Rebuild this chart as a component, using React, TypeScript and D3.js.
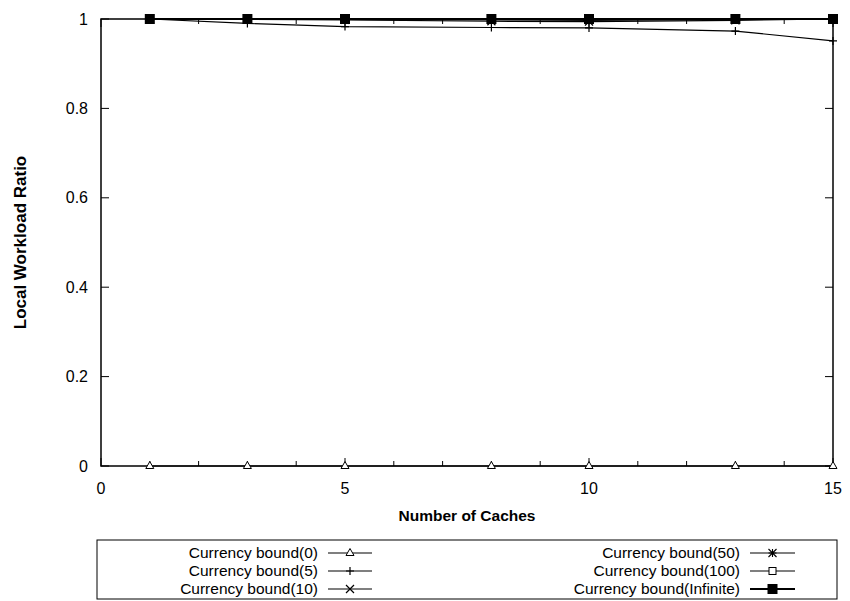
import React from "react";
import * as d3 from "d3";

const caches = [1, 3, 5, 8, 10, 13, 15];
const bound0 = [0, 0, 0, 0, 0, 0, 0];
const bound5 = [1, 0.99, 0.983, 0.981, 0.98, 0.973, 0.951];
const bound10 = [1, 0.999, 0.998, 0.995, 0.994, 0.997, 1];
const bound50 = [1, 1, 0.999, 0.998, 0.997, 0.999, 1];
const bound100 = [1, 1, 1, 0.999, 0.999, 1, 1];
const boundInf = [1, 1, 1, 1, 1, 1, 1];
const seriesNames = [
  "Currency bound(0)",
  "Currency bound(5)",
  "Currency bound(10)",
  "Currency bound(50)",
  "Currency bound(100)",
  "Currency bound(Infinite)",
];
const markerTypes = ["triangle", "plus", "cross", "star", "square", "filled"];
const xTickValues = [0, 5, 10, 15];
const xMinorValues = d3.range(0, 16);
const yTickValues = [0, 0.2, 0.4, 0.6, 0.8, 1];

const W = 850;
const H = 601;
const FONT = "'Liberation Sans', Arial, Helvetica, sans-serif";

function Marker({ type, x, y }: { type: string; x: number; y: number }) {
  const s = 4;
  switch (type) {
    case "triangle":
      return (
        <path
          d={`M${x},${y - 4.5}L${x + 4},${y + 2.5}L${x - 4},${y + 2.5}Z`}
          fill="white"
          stroke="black"
          strokeWidth={1}
        />
      );
    case "plus":
      return (
        <path d={`M${x - s},${y}H${x + s}M${x},${y - s}V${y + s}`} stroke="black" strokeWidth={1.2} />
      );
    case "cross":
      return (
        <path
          d={`M${x - s},${y - s}L${x + s},${y + s}M${x - s},${y + s}L${x + s},${y - s}`}
          stroke="black"
          strokeWidth={1.2}
        />
      );
    case "star":
      return (
        <path
          d={`M${x - s},${y}H${x + s}M${x},${y - s}V${y + s}M${x - s},${y - s}L${x + s},${y + s}M${x - s},${y + s}L${x + s},${y - s}`}
          stroke="black"
          strokeWidth={1.1}
        />
      );
    case "square":
      return <rect x={x - 3.5} y={y - 3.5} width={7} height={7} fill="white" stroke="black" strokeWidth={1} />;
    case "filled":
    default:
      return <rect x={x - 5} y={y - 5} width={10} height={10} fill="black" />;
  }
}

export default function App() {
  const left = 101;
  const right = 833;
  const top = 19;
  const bottom = 466;
  const x = d3.scaleLinear().domain([0, 15]).range([left, right]);
  const y = d3.scaleLinear().domain([0, 1]).range([bottom, top]);

  const allSeries = [bound0, bound5, bound10, bound50, bound100, boundInf];
  const line = d3
    .line<number>()
    .x((_, i) => x(caches[i]))
    .y((d) => y(d));

  const legendRowY = [553, 571, 589];
  const legendCols = [
    { textRight: 318, lineStart: 328, lineEnd: 372 },
    { textRight: 740, lineStart: 750, lineEnd: 795 },
  ];

  return (
    <svg width={W} height={H} style={{ position: "absolute", left: 0, top: 0, background: "white" }} fontFamily={FONT}>
      <rect x={0} y={0} width={W} height={H} fill="white" />
      {xMinorValues.map((v) => {
        const len = xTickValues.includes(v) ? 8 : 5;
        return (
          <g key={"xt" + v}>
            <line x1={x(v)} x2={x(v)} y1={bottom} y2={bottom - len} stroke="black" strokeWidth={1} />
            <line x1={x(v)} x2={x(v)} y1={top} y2={top + len} stroke="black" strokeWidth={1} />
          </g>
        );
      })}
      {yTickValues.map((v) => (
        <g key={"yt" + v}>
          <line x1={left} x2={left + 8} y1={y(v)} y2={y(v)} stroke="black" strokeWidth={1} />
          <line x1={right} x2={right - 8} y1={y(v)} y2={y(v)} stroke="black" strokeWidth={1} />
          <text x={88} y={y(v)} dy="0.35em" textAnchor="end" fontSize={16}>
            {d3.format("~g")(v)}
          </text>
        </g>
      ))}
      {xTickValues.map((v) => (
        <text key={"xl" + v} x={x(v)} y={494} textAnchor="middle" fontSize={16}>
          {v}
        </text>
      ))}
      <rect x={left} y={top} width={right - left} height={bottom - top} fill="none" stroke="black" strokeWidth={1.5} />
      {allSeries.map((s, si) => (
        <g key={"s" + si}>
          <path d={line(s) || ""} fill="none" stroke="black" strokeWidth={si === 5 ? 2 : 1.2} />
          {s.map((v, i) => (
            <Marker key={i} type={markerTypes[si]} x={x(caches[i])} y={y(v)} />
          ))}
        </g>
      ))}
      <text
        transform={`translate(26,${(top + bottom) / 2}) rotate(-90)`}
        textAnchor="middle"
        fontSize={17}
        fontWeight="bold"
      >
        Local Workload Ratio
      </text>
      <text x={(left + right) / 2} y={521} textAnchor="middle" fontSize={15.5} fontWeight="bold">
        Number of Caches
      </text>
      <rect x={97} y={540} width={740} height={59} fill="white" stroke="black" strokeWidth={1} />
      {seriesNames.map((name, i) => {
        const col = legendCols[Math.floor(i / 3)];
        const ry = legendRowY[i % 3];
        return (
          <g key={"lg" + i}>
            <text x={col.textRight} y={ry} dy="0.35em" textAnchor="end" fontSize={15.5}>
              {name}
            </text>
            <line x1={col.lineStart} x2={col.lineEnd} y1={ry} y2={ry} stroke="black" strokeWidth={i === 5 ? 2 : 1.2} />
            <Marker type={markerTypes[i]} x={(col.lineStart + col.lineEnd) / 2} y={ry} />
          </g>
        );
      })}
    </svg>
  );
}
